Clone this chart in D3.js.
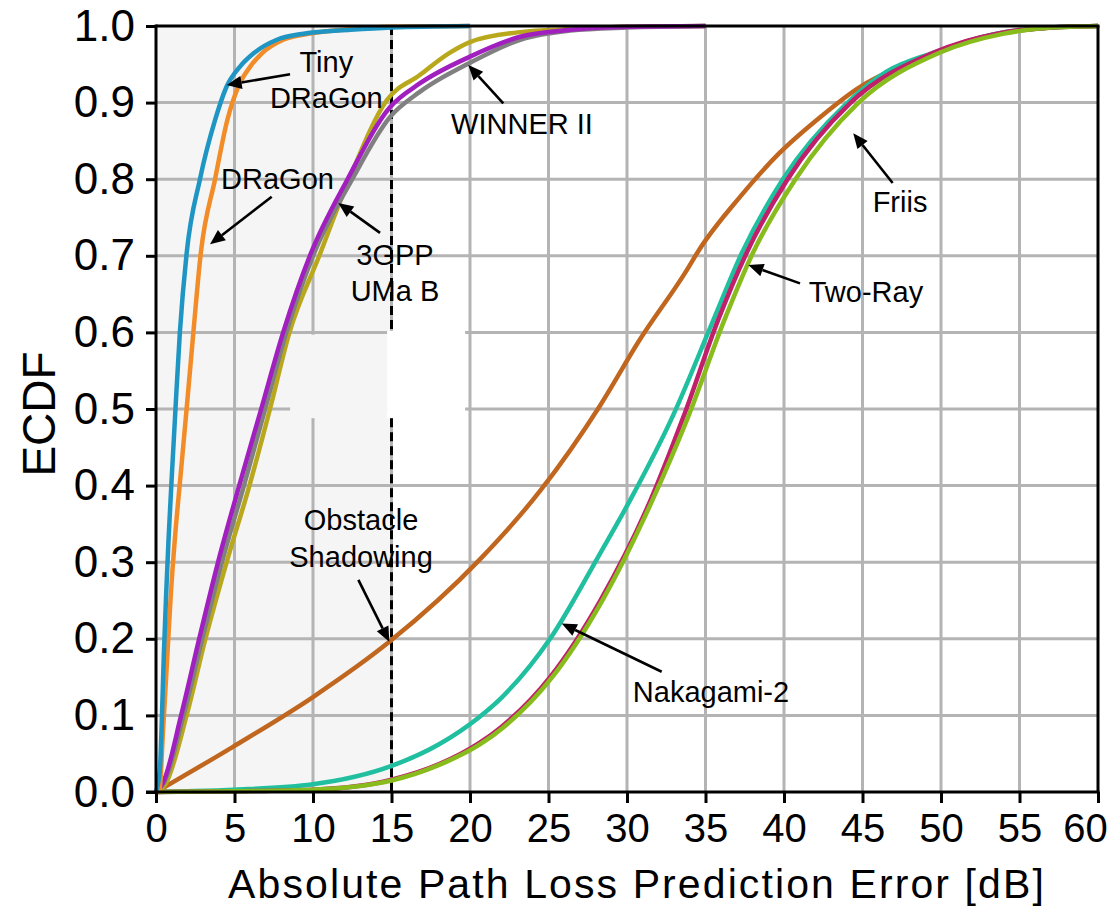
<!DOCTYPE html>
<html>
<head>
<meta charset="utf-8">
<script src="https://cdn.jsdelivr.net/npm/d3@7"></script>
<style>
  html, body { margin: 0; padding: 0; background: #ffffff; }
  svg { display: block; font-family: "Liberation Sans", Arial, sans-serif; }
</style>
</head>
<body>
<svg id="chart" width="1119" height="909"></svg>
<script>
// ---- tick labels ----
const xTicks = [0, 5, 10, 15, 20, 25, 30, 35, 40, 45, 50, 55, 60];
const yTicks = [0, 0.1, 0.2, 0.3, 0.4, 0.5, 0.6, 0.7, 0.8, 0.9, 1.0];

// ---- ECDF series: [absolute error dB, cumulative fraction] ----
const tinyDragon = [[0,0],[0.25,0.03],[0.38,0.1],[0.5,0.18],[0.65,0.26],[0.8,0.33],[1.0,0.41],[1.24,0.5],
  [1.52,0.6],[1.95,0.703],[2.8,0.8],[3.76,0.877],[4.5,0.921],[5.35,0.947],[6.2,0.964],[7.7,0.982],
  [9.4,0.99],[12.4,0.995],[15,0.998],[20,1]];
const dragon = [[0,0],[0.2,0],[0.45,0.08],[0.7,0.17],[0.95,0.26],[1.2,0.33],[1.55,0.41],[1.95,0.5],
  [2.38,0.6],[2.85,0.703],[3.76,0.8],[4.54,0.877],[5.24,0.921],[6.0,0.947],[6.73,0.964],[8.1,0.982],
  [9.8,0.99],[12.4,0.996],[15,0.999],[20,1]];
const umaB = [[0,0],[0.45,0.012],[1.6,0.1],[2.75,0.2],[3.95,0.3],[5.3,0.4],[6.7,0.5],[8.1,0.6],[9.8,0.7],
  [12.2,0.8],[14.9,0.894],[16.8,0.925],[20,0.96],[23.2,0.986],[26.4,0.995],[30,0.999],[35,1]];
const winner2 = [[0,0],[0.5,0.012],[1.75,0.1],[2.95,0.2],[4.2,0.3],[5.6,0.4],[6.95,0.5],[8.3,0.6],[10.0,0.7],
  [12.5,0.8],[14.9,0.881],[16.8,0.914],[20,0.952],[23.2,0.982],[26.4,0.994],[30,0.998],[35,1]];
const oliveSeries = [[0,0],[0.6,0.01],[1.95,0.1],[3.15,0.2],[4.5,0.3],[5.95,0.4],[7.26,0.5],[8.5,0.6],
  [10.4,0.7],[12.3,0.8],[14.7,0.903],[16.8,0.936],[18.7,0.965],[20,0.979],[23.2,0.992],[26.4,0.996],
  [30,0.999],[35,1]];
const obstacle = [[0,0],[4.9,0.059],[10,0.124],[14.86,0.196],[20.6,0.303],[24.5,0.394],[28.3,0.505],
  [30.8,0.59],[33.8,0.681],[34.6,0.708],[37.2,0.777],[39.7,0.834],[42.3,0.881],[44.8,0.92],[47.4,0.947],
  [49.5,0.964],[52,0.982],[55,0.994],[58,0.999],[60,1]];
const nakagami2 = [[0,0],[2,0.001],[5,0.003],[10,0.01],[15,0.034],[18,0.062],[20.6,0.098],[22,0.123],
  [25.1,0.2],[28.3,0.312],[30.2,0.381],[32.9,0.49],[35.5,0.616],[37.3,0.703],[39.9,0.799],[44.0,0.899],
  [46.5,0.94],[49.5,0.965],[53.8,0.991],[57,0.998],[60,1]];
const twoRay = [[0,0],[5,0.001],[10,0.003],[15,0.016],[18,0.036],[20.6,0.064],[22,0.085],[25.1,0.15],
  [28.3,0.25],[31.5,0.381],[33.6,0.49],[35.8,0.616],[37.6,0.703],[40.2,0.799],[44.2,0.899],[49.5,0.965],
  [53.8,0.991],[57,0.998],[60,1]];
const friis = [[0,0],[5,0.001],[10,0.003],[15,0.015],[18,0.035],[20.7,0.063],[22.1,0.084],[25.2,0.149],
  [28.4,0.249],[31.6,0.38],[33.9,0.49],[36.2,0.616],[38.0,0.703],[40.7,0.799],[44.7,0.899],[49.9,0.965],
  [54.0,0.99],[57,0.998],[60,1]];

// drawing order (later on top)
const series = [
  { key: "obstacle",   color: "#c0661e", values: obstacle },
  { key: "nakagami2",  color: "#1fbf9f", values: nakagami2 },
  { key: "twoRay",     color: "#c0206a", values: twoRay },
  { key: "friis",      color: "#88bb1c", values: friis },
  { key: "olive",      color: "#b9a81b", values: oliveSeries },
  { key: "winner2",    color: "#808080", values: winner2 },
  { key: "umaB",       color: "#a21fbf", values: umaB },
  { key: "dragon",     color: "#f28c28", values: dragon },
  { key: "tinyDragon", color: "#1f95c3", values: tinyDragon }
];

// ---- annotations: text lines (anchor x, first baseline y) and arrow tail -> tip, all in data units ----
const annotations = [
  { lines: ["Tiny", "DRaGon"], at: [10.85, 0.940], tail: [8.54, 0.937], tip: [4.5, 0.923] },
  { lines: ["DRaGon"], at: [7.74, 0.787], tail: [7.37, 0.777], tip: [3.44, 0.715] },
  { lines: ["3GPP", "UMa B"], at: [15.22, 0.688], tail: [14.27, 0.730], tip: [11.61, 0.769] },
  { lines: ["WINNER II"], at: [23.31, 0.859], tail: [22.12, 0.899], tip: [19.89, 0.949] },
  { lines: ["Friis"], at: [47.39, 0.757], tail: [46.92, 0.795], tip: [44.41, 0.860] },
  { lines: ["Two-Ray"], at: [45.22, 0.640], tail: [41.02, 0.664], tip: [37.73, 0.688] },
  { lines: ["Nakagami-2"], at: [35.35, 0.118], tail: [32.21, 0.157], tip: [25.84, 0.220] },
  { lines: ["Obstacle", "Shadowing"], at: [13.06, 0.342], tail: [12.89, 0.277], tip: [14.86, 0.196] }
];

const threshold = 15;   // shaded region 0..15 dB with dashed boundary

const W = 1119, H = 909;
const margin = { left: 156, right: 21, top: 26, bottom: 117 };
const svg = d3.select("#chart");

const x = d3.scaleLinear().domain([0, 60]).range([margin.left, W - margin.right]);
const y = d3.scaleLinear().domain([0, 1]).range([H - margin.bottom, margin.top]);

// shaded region
svg.append("rect")
  .attr("x", x(0)).attr("y", y(1))
  .attr("width", x(threshold) - x(0)).attr("height", y(0) - y(1))
  .attr("fill", "#f5f5f5");

// grid
const grid = svg.append("g").attr("stroke", "#b4b4b4").attr("stroke-width", 3);
grid.selectAll("line.v").data(xTicks.slice(1, -1)).join("line")
  .attr("x1", d => x(d)).attr("x2", d => x(d)).attr("y1", y(0)).attr("y2", y(1));
grid.selectAll("line.h").data(yTicks.slice(1, -1)).join("line")
  .attr("x1", x(0)).attr("x2", x(60)).attr("y1", d => y(d)).attr("y2", d => y(d));

// blank boxes over the grid around mid-plot
svg.append("rect")
  .attr("x", x(8.54)).attr("y", y(0.597))
  .attr("width", x(14.72) - x(8.54)).attr("height", y(0.488) - y(0.597))
  .attr("fill", "#f5f5f5");
svg.append("rect")
  .attr("x", x(14.72)).attr("y", y(0.602))
  .attr("width", x(19.69) - x(14.72)).attr("height", y(0.488) - y(0.602))
  .attr("fill", "#ffffff");

// dashed threshold line (interrupted by the white box)
const dash = svg.append("g").attr("stroke", "#000").attr("stroke-width", 3).attr("stroke-dasharray", "9,5");
dash.append("line").attr("x1", x(threshold)).attr("x2", x(threshold)).attr("y1", y(1)).attr("y2", y(0.602));
dash.append("line").attr("x1", x(threshold)).attr("x2", x(threshold)).attr("y1", y(0.488)).attr("y2", y(0));

// curves
const line = d3.line().x(d => x(d[0])).y(d => y(d[1])).curve(d3.curveMonotoneX);
svg.append("g").selectAll("path").data(series).join("path")
  .attr("d", d => line(d.values))
  .attr("fill", "none")
  .attr("stroke", d => d.color)
  .attr("stroke-width", 4.5)
  .attr("stroke-linejoin", "round");

// annotations
const ann = svg.append("g").attr("font-size", 29).attr("fill", "#000");
annotations.forEach(a => {
  const [x0, y0] = [x(a.tail[0]), y(a.tail[1])];
  const [x1, y1] = [x(a.tip[0]), y(a.tip[1])];
  const ang = Math.atan2(y1 - y0, x1 - x0);
  const headLen = 15, headHalf = 6.5;
  const bx = x1 - headLen * Math.cos(ang), by = y1 - headLen * Math.sin(ang);
  ann.append("line").attr("x1", x0).attr("y1", y0).attr("x2", bx).attr("y2", by)
    .attr("stroke", "#000").attr("stroke-width", 2.6);
  const px = -Math.sin(ang) * headHalf, py = Math.cos(ang) * headHalf;
  ann.append("path")
    .attr("d", `M${x1},${y1}L${bx + px},${by + py}L${bx - px},${by - py}Z`)
    .attr("fill", "#000");
  a.lines.forEach((t, i) => {
    ann.append("text").attr("x", x(a.at[0])).attr("y", y(a.at[1]) + i * 36.5)
      .attr("text-anchor", "middle").text(t);
  });
});

// frame (top and right)
const frame = svg.append("g").attr("stroke", "#000").attr("stroke-width", 3).attr("fill", "none");
frame.append("line").attr("x1", x(0)).attr("x2", x(60) + 1.5).attr("y1", y(1)).attr("y2", y(1));
frame.append("line").attr("x1", x(60)).attr("x2", x(60)).attr("y1", y(1)).attr("y2", y(0));

// axes
const xAxis = d3.axisBottom(x).tickValues(xTicks).tickSize(11).tickPadding(11).tickFormat(d3.format("d"));
const gx = svg.append("g").attr("transform", `translate(0,${y(0)})`).call(xAxis);
gx.selectAll("text").attr("font-size", 40).attr("fill", "#000").attr("font-family", "Liberation Sans, Arial, sans-serif");
gx.selectAll(".tick").filter(d => d === 60).select("text").attr("dx", -13);
gx.selectAll("line").attr("stroke", "#000").attr("stroke-width", 3);
gx.select(".domain").attr("stroke", "#000").attr("stroke-width", 3).attr("d", `M${x(0) - 10},0H${x(60) + 1.5}`);

const yAxis = d3.axisLeft(y).tickValues(yTicks).tickSize(10).tickPadding(11).tickFormat(d3.format(".1f"));
const gy = svg.append("g").attr("transform", `translate(${x(0)},0)`).call(yAxis);
gy.selectAll("text").attr("font-size", 44).attr("fill", "#000").attr("font-family", "Liberation Sans, Arial, sans-serif");
gy.selectAll("line").attr("stroke", "#000").attr("stroke-width", 3);
gy.select(".domain").attr("stroke", "#000").attr("stroke-width", 3).attr("d", `M0,${y(1) - 1.5}V${y(0) + 1.5}`);

// axis titles
svg.append("text")
  .attr("x", 637).attr("y", 898)
  .attr("text-anchor", "middle").attr("font-size", 41).attr("letter-spacing", 2.1).attr("fill", "#000")
  .text("Absolute Path Loss Prediction Error [dB]");
svg.append("text")
  .attr("transform", `translate(55,414) rotate(-90)`)
  .attr("text-anchor", "middle").attr("font-size", 46).attr("fill", "#000")
  .text("ECDF");
</script>
</body>
</html>
